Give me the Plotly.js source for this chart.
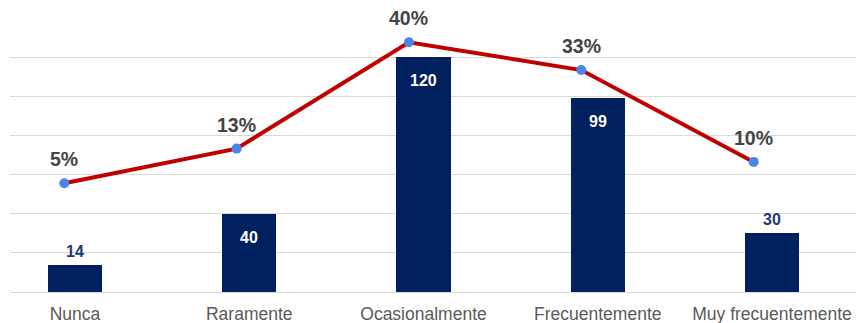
<!DOCTYPE html>
<html><head><meta charset="utf-8">
<script src="https://cdn.plot.ly/plotly-3.0.1.min.js"></script>
<style>html,body{margin:0;padding:0;background:#fff}#chart{width:856px;height:323px}</style>
</head><body><div id="chart"></div>
<script>
const categories = ["Nunca", "Raramente", "Ocasionalmente", "Frecuentemente", "Muy frecuentemente"];
const counts = [14, 40, 120, 99, 30];
const percents = [4.6, 13.2, 39.6, 32.7, 9.9];

const FONT = "Liberation Sans, Arial, sans-serif";
const idx = categories.map((c, i) => i);

const bars = {
  type: "bar", x: idx, y: counts, width: 0.31,
  marker: {color: "#002060"}, hoverinfo: "skip", showlegend: false
};
const line = {
  type: "scatter", mode: "lines+markers", x: idx, y: percents,
  xaxis: "x2", yaxis: "y2",
  line: {color: "#C00000", width: 4},
  marker: {color: "#4A86E8", size: 10},
  hoverinfo: "skip", showlegend: false
};

const annotations = [];
counts.forEach((v, i) => {
  const inside = v >= 35;
  annotations.push({
    x: i, y: v, xref: "x", yref: "y", text: String(v), showarrow: false,
    yanchor: inside ? "top" : "bottom", yshift: inside ? -13 : 3,
    font: {family: FONT, size: 16, color: inside ? "#ffffff" : "#1F3A73", weight: "bold"}
  });
});
percents.forEach((p, i) => {
  annotations.push({
    x: i, y: p, xref: "x2", yref: "y2", text: Math.round(p) + "%", showarrow: false,
    yanchor: "bottom", yshift: 11,
    font: {family: FONT, size: 19.5, color: "#444444", weight: "bold"}
  });
});

const layout = {
  width: 856, height: 323,
  margin: {l: 10, r: 0, t: 18, b: 31},
  paper_bgcolor: "#fff", plot_bgcolor: "#fff",
  font: {family: FONT},
  xaxis: {
    range: [-0.373, 4.482], tickmode: "array", tickvals: idx, ticktext: categories,
    showgrid: false, zeroline: false, showline: false, ticks: "", ticklabelstandoff: 9,
    tickfont: {family: FONT, size: 17.5, color: "#5a5a5a"}, fixedrange: true
  },
  xaxis2: {overlaying: "x", range: [-0.315, 4.594], visible: false, fixedrange: true},
  yaxis: {
    range: [0, 140], dtick: 20, showgrid: true, gridcolor: "#d9d9d9", gridwidth: 1,
    zeroline: true, zerolinecolor: "#d9d9d9", zerolinewidth: 1,
    showticklabels: false, ticks: "", fixedrange: true
  },
  yaxis2: {overlaying: "y", side: "right", range: [-22.39, 45.62], visible: false, fixedrange: true},
  annotations: annotations,
  bargap: 0
};

Plotly.newPlot("chart", [bars, line], layout, {displayModeBar: false, staticPlot: true});
</script></body></html>
